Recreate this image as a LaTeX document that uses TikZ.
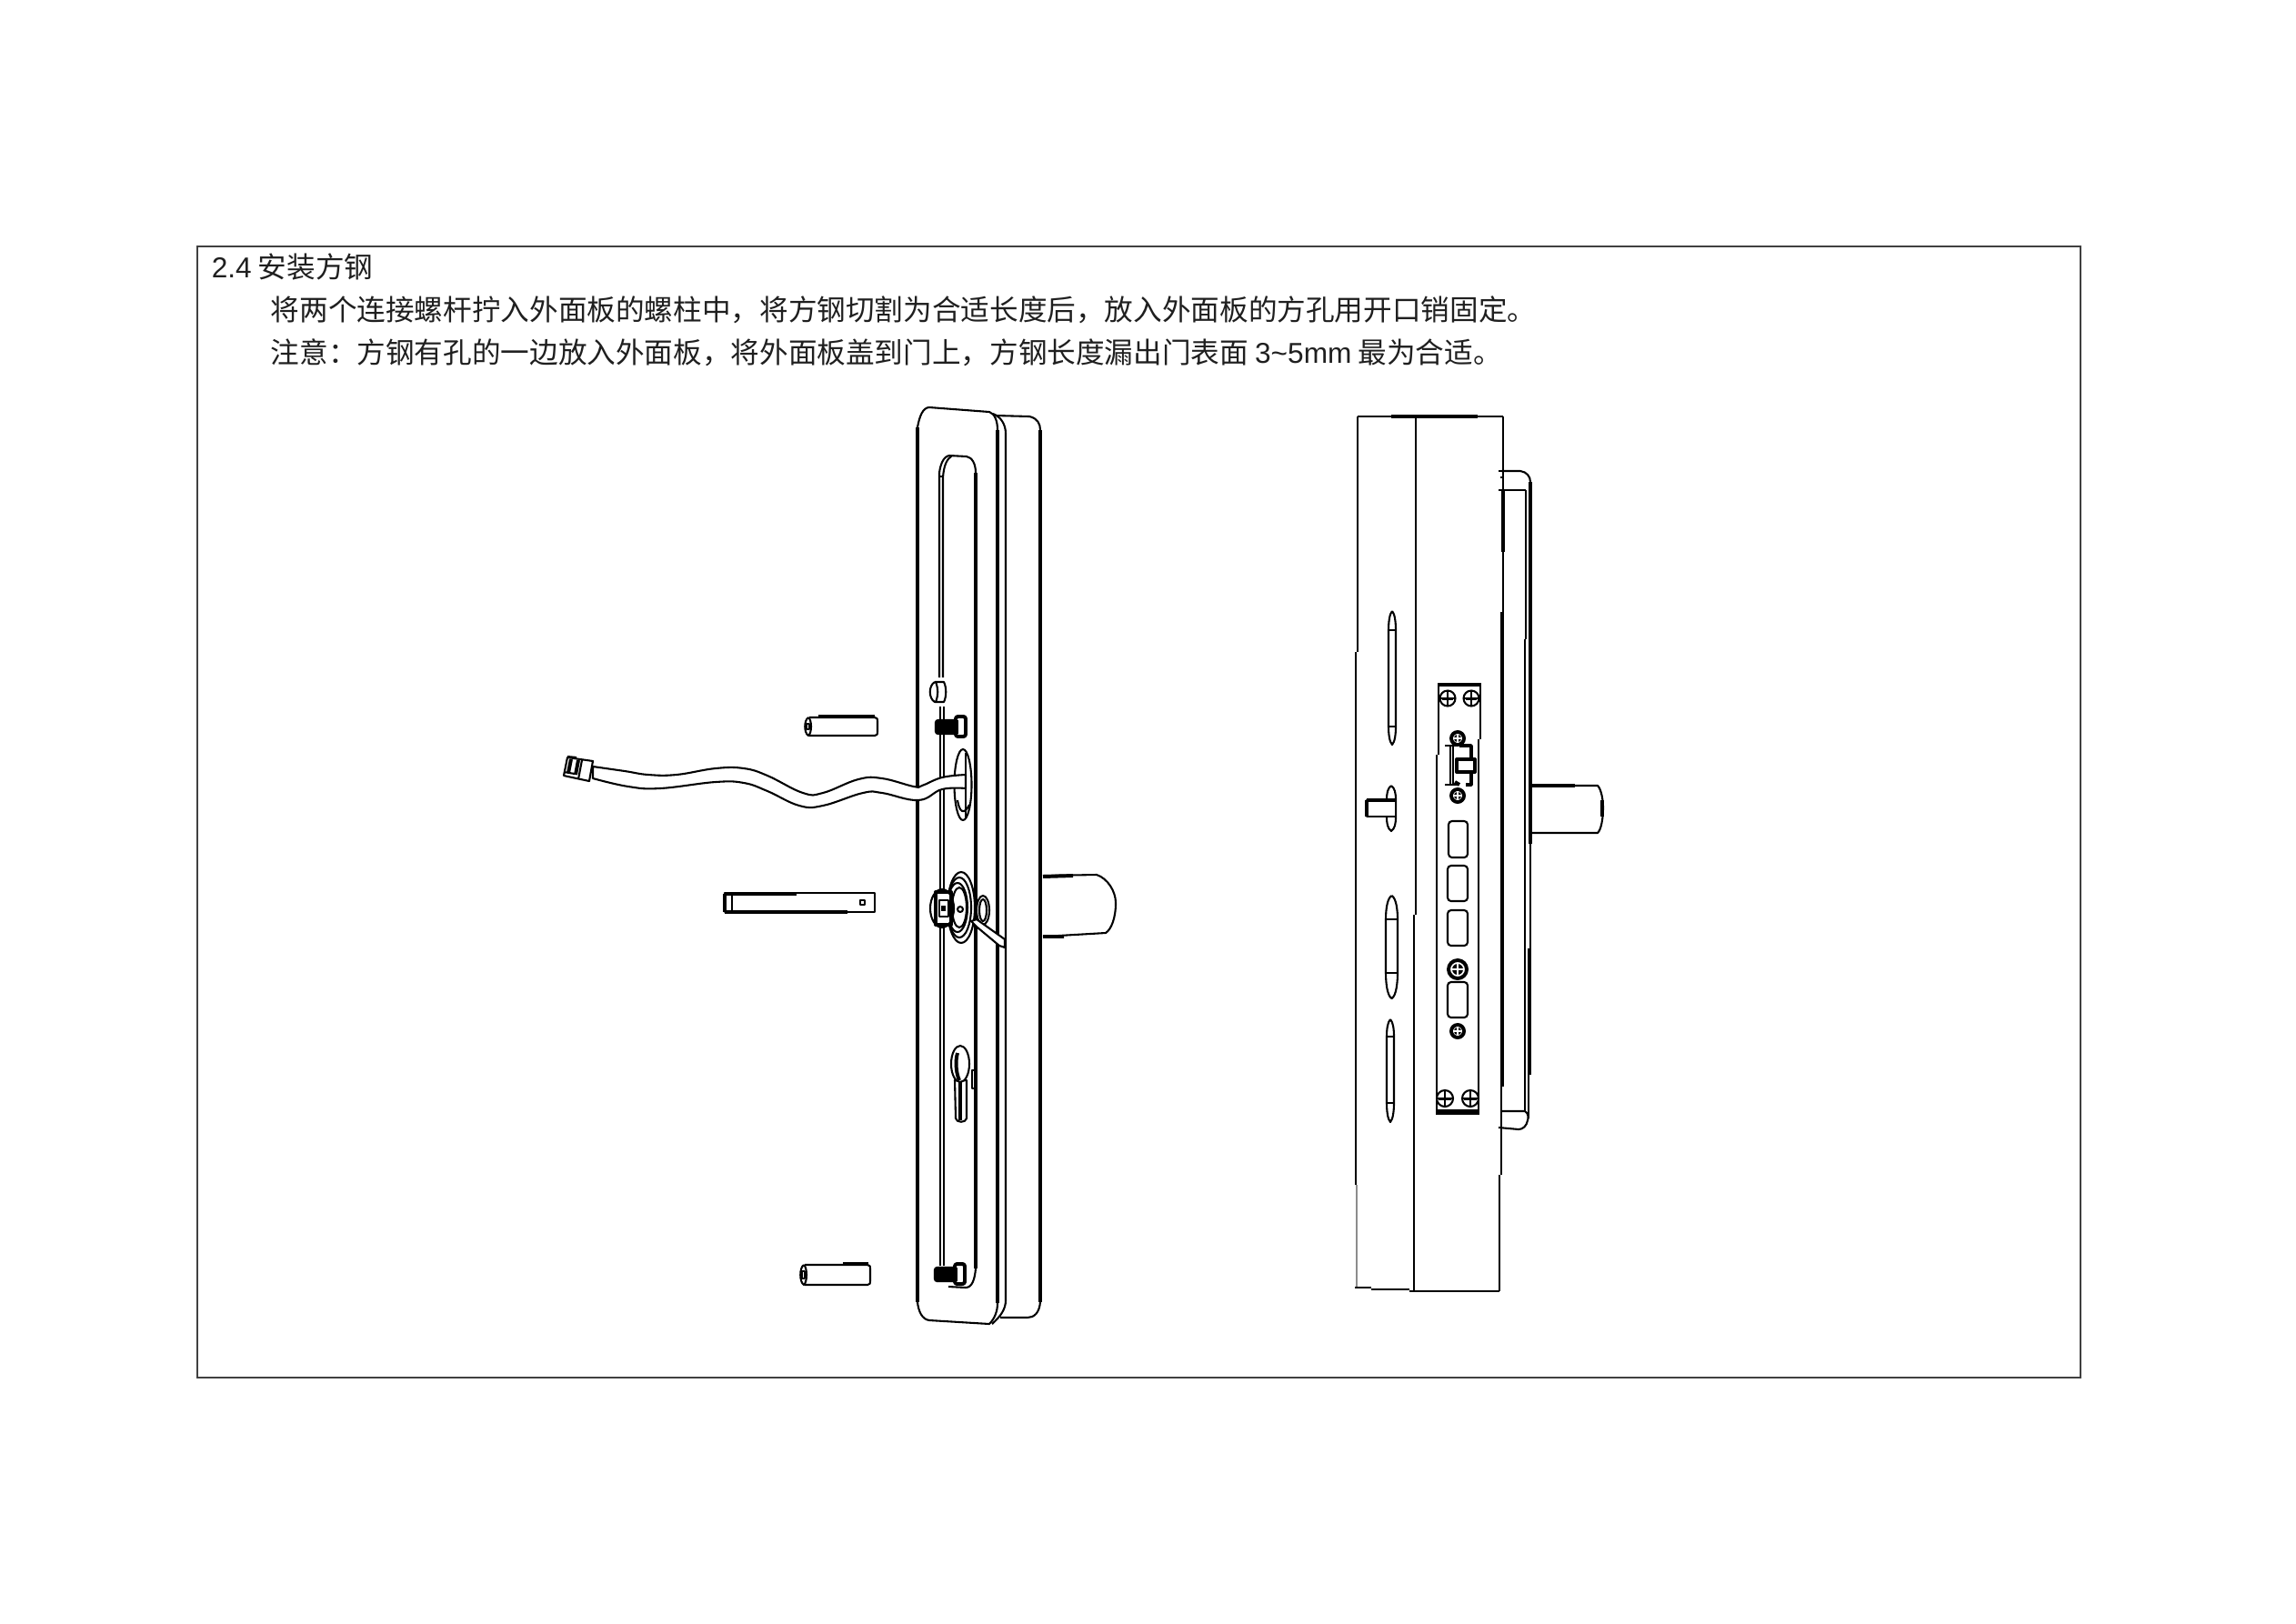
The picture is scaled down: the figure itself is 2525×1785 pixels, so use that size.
\documentclass[tikz,border=0pt]{standalone}
\usepackage{fontspec}
\setmainfont{Liberation Sans}
\newfontfamily\cjk{Noto Sans CJK SC}
\newcommand{\crossscrew}[3]{%
  \draw[ln] (#1,#2) circle (#3);
  \draw[ln] (#1-#3,#2) -- (#1+#3,#2) (#1,#2-#3) -- (#1,#2+#3);
  \draw[ln] (#1-#3*.75,#2+#3*.15) -- (#1+#3*.75,#2+#3*.15);
}
\newcommand{\denseScrew}[3]{%
  \draw[hv] (#1,#2) circle (#3);
  \fill (#1,#2) circle (#3*.6);
  \draw[white,line width=.3pt] (#1-#3*.7,#2) -- (#1+#3*.7,#2) (#1,#2-#3*.7) -- (#1,#2+#3*.7);
}
\newcommand{\slotshape}[6]{%
  \draw[ln,fill=white] ({(#1+#2)/2},#3) .. controls (#2-1,#3+3) and (#2,#5-8) .. (#2,#5)
    -- (#2,#6) .. controls (#2,#6+8) and (#2-1,#4-3) .. ({(#1+#2)/2},#4)
    .. controls (#1+1,#4-3) and (#1,#6+8) .. (#1,#6)
    -- (#1,#5) .. controls (#1,#5-8) and (#1+1,#3+3) .. ({(#1+#2)/2},#3);
  \draw[ln] (#1,#5) -- (#2,#5) (#1,#6) -- (#2,#6);
}
\newcommand{\rrect}[4]{%
  \draw[ln,rounded corners=.9pt] (#1,#3) rectangle (#2,#4);
}
\newcommand{\threadscrew}[2]{%
  \draw[ln,fill=white,rounded corners=.6pt] (#1,#2+4) rectangle (#1+24,#2+19);
  \draw[hv,fill=white,rounded corners=.6pt] (#1+22,#2) rectangle (#1+33,#2+22);
  \foreach \i in {3,7,...,23} {\draw[line width=.75pt] (#1+\i,#2+4) -- (#1+\i,#2+19);}
}
\newcommand{\cylpin}[4]{%
  \draw[ln] (#1+5,#3) -- (#2-3,#3) .. controls (#2,#3) and (#2,#3+2) .. (#2,#3+4)
    -- (#2,#4-4) .. controls (#2,#4-2) and (#2,#4) .. (#2-3,#4) -- (#1+5,#4);
  \draw[ln] (#1+4,#3) .. controls (#1-1,#3+3) and (#1-1,#4-3) .. (#1+4,#4)
    .. controls (#1+8,#4-3) and (#1+8,#3+3) .. (#1+4,#3);
  \draw[ln] (#1+2,#3+7) rectangle (#1+5,#4-7);
}
\tikzset{
  ln/.style={line width=.5pt,line join=round},
  hv/.style={line width=.95pt,line join=round},
  txt/.style={anchor=base west,inner sep=0pt,font=\fontsize{7.59pt}{9pt}\selectfont\cjk,text=black!88},
}
\begin{document}
\begin{tikzpicture}[x=.24pt,y=-.24pt]
\useasboundingbox (0,0) rectangle (2525,1785);
% frame
\draw[line width=.45pt,black!75] (217,271) rectangle (2288,1515);
% text
\node[txt] (t1) at (232,305) {{\rmfamily 2.4} 安装方钢};
\node[txt] (t2) at (297,352) {将两个连接螺杆拧入外面板的螺柱中，将方钢切割为合适长度后，放入外面板的方孔用开口销固定。};
\node[txt] (t3) at (297,399) {注意：方钢有孔的一边放入外面板，将外面板盖到门上，方钢长度漏出门表面 {\rmfamily 3\textasciitilde 5mm} 最为合适。};

%%% LEFT VIEW
% back plate
\draw[ln] (1095,457) -- (1132,458) .. controls (1141,460) and (1144,466) .. (1144,473);
\draw[hv] (1144,473) -- (1144,1432);
\draw[ln] (1144,1432) .. controls (1143,1444) and (1137,1449) .. (1130,1449) -- (1100,1449);
% front plate
\draw[hv] (1009,470) -- (1009,1432);
\draw[ln] (1009,470) .. controls (1011,458) and (1015,448) .. (1022,448) -- (1088,453) .. controls (1094,455) and (1097,463) .. (1097,473);
\draw[hv] (1097,473) -- (1097,1433);
\draw[ln] (1009,1432) .. controls (1010,1442) and (1014,1451) .. (1022,1452) -- (1088,1456) .. controls (1094,1450) and (1097,1442) .. (1097,1433);
\draw[ln] (1092,455) .. controls (1100,458) and (1106,466) .. (1106,477) -- (1106,1430)
  .. controls (1106,1440) and (1100,1448) .. (1091,1456);
% window
\draw[ln] (1033,745) -- (1033,520) .. controls (1034,512) and (1037,502) .. (1044,501) -- (1063,502) .. controls (1069,503) and (1073,510) .. (1073,520);
\draw[hv] (1073,520) -- (1073,1395);
\draw[ln] (1073,1395) .. controls (1072,1407) and (1069,1416) .. (1062,1416) -- (1043,1415);
\draw[ln] (1037,745) -- (1037,525) .. controls (1038,512) and (1041,505) .. (1047,501);
\draw[ln] (1033,524) -- (1037,524);
\draw[ln] (1034,777) -- (1034,1392) (1038,777) -- (1038,1392);
% tab
\draw[ln,fill=white] (1028,750) -- (1038,750) .. controls (1041,756) and (1041,766) .. (1038,772) -- (1028,772) .. controls (1021,768) and (1021,754) .. (1028,750);
\draw[ln] (1029,750) .. controls (1032,758) and (1032,764) .. (1029,772);
% screws
\threadscrew{1029}{788}
\threadscrew{1028}{1390}
% slot oval
\draw[ln,fill=white] (1059,863) ellipse (9.5 and 39);
\draw[ln] (1062,828) -- (1062,900);
\draw[ln] (1053,880) .. controls (1055,893) and (1060,897) .. (1066,885);
% wire
\draw[ln,fill=white] plot[smooth,tension=.7] coordinates {(652,843) (687,848) (713,852) (744,852) (787,845) (818,845) (844,853) (883,872) (905,872) (944,857) (970,856) (1005,865) (1014,864) (1036,855) (1062,852)}
  -- plot[smooth,tension=.7] coordinates {(1062,867) (1036,868) (1010,880) (970,872) (949,872) (905,886) (879,886) (844,870) (818,861) (787,860) (726,867) (691,865) (652,856)} -- cycle;
% plug
\draw[ln,fill=white] (652,837) -- (648,859) -- (620,853) -- (624,833) -- cycle;
\draw[hv] (628,835) -- (625,850) (636,836) -- (633,852);
\draw[ln] (624,832) -- (634,833) (620,849) -- (632,851) (640,836) -- (636,857);
% square steel
\draw[ln] (797,982) rectangle (962,1003);
\draw[hv] (797,983) -- (876,983) (797,1003) -- (932,1003) (797,983) -- (797,1003);
\draw[ln] (805,983) -- (805,1003);
\draw[ln] (946,990) rectangle (951,995);
% pins
\cylpin{885}{965}{789}{809}
\draw[hv] (900,788) -- (962,788);
\cylpin{880}{957}{1391}{1413}
\draw[hv] (927,1390) -- (955,1390);
% hub
\draw[ln,fill=white] (1057,998) ellipse (15 and 39);
\draw[ln] (1055,998) ellipse (13 and 33);
\draw[ln] (1053,998) ellipse (11 and 27);
\draw[ln] (1055,998) ellipse (8 and 22);
\draw[ln,fill=white] (1081,1001) ellipse (7 and 16);
\draw[ln] (1081,1001) ellipse (4 and 12);
\draw[ln,fill=white] (1036,999) ellipse (13 and 21);
\draw[hv] (1029,981) rectangle (1046,1017);
\draw[ln] (1033,990) rectangle (1043,1008);
\fill (1035,996) rectangle (1040,1002);
\draw[ln] (1056,1000) circle (3);
\draw[ln,fill=white] (1068,1013) -- (1074,1011) -- (1105,1033) -- (1105,1042) -- (1099,1040) -- (1075,1020) -- cycle;
% key-hole
\draw[ln,fill=white] (1050,1188) -- (1063,1188) -- (1063,1230) .. controls (1062,1235) and (1052,1235) .. (1051,1230) -- cycle;
\draw[hv] (1056,1188) -- (1056,1232);
\draw[ln,fill=white] (1056,1170) ellipse (10 and 20);
\draw[hv] (1053,1158) .. controls (1050,1168) and (1052,1182) .. (1055,1188);
\draw[ln] (1069,1177) rectangle (1073,1197);
% handle
\draw[ln] (1147,963) -- (1206,962) .. controls (1218,966) and (1227,980) .. (1227,993) .. controls (1227,1010) and (1222,1022) .. (1216,1026) -- (1147,1030);
\draw[hv] (1147,964) -- (1180,963) (1147,1030) -- (1170,1030);

%%% RIGHT VIEW
\draw[ln] (1493,458) -- (1653,458);
\draw[hv] (1530,458) -- (1625,458);
\draw[ln] (1493,458) -- (1493,717);
\draw[line width=.7pt] (1491,717) -- (1491,1303);
\draw[line width=.35pt,black!45] (1492,1303) -- (1492,1416);
\draw[ln] (1557,458) -- (1557,1006);
\draw[ln] (1555,1006) -- (1555,1419);
\draw[ln] (1490,1416) -- (1508,1416) (1508,1418) -- (1550,1418) (1550,1420) -- (1649,1420);
\draw[ln] (1653,458) -- (1653,673);
\draw[hv] (1653,538) -- (1653,607);
\draw[line width=.95pt] (1652,673) -- (1652,1195);
\draw[ln] (1651,1195) -- (1651,1292);
\draw[ln] (1649,1292) -- (1649,1420);
% handle bar
\draw[ln] (1651,518) -- (1672,518) .. controls (1679,519) and (1683,524) .. (1683,530);
\draw[ln] (1651,539) -- (1678,539);
\draw[line width=1.1pt] (1683,530) -- (1683,928);
\draw[ln] (1678,539) -- (1678,703) (1677,703) -- (1677,1222) (1683,928) -- (1683,1043);
\draw[line width=1.1pt] (1682,1043) -- (1682,1182);
\draw[ln] (1681,1182) -- (1681,1230);
\draw[ln] (1650,1222) -- (1677,1222) .. controls (1681,1224) and (1681,1230) .. (1680,1232) .. controls (1679,1238) and (1675,1242) .. (1670,1242) -- (1648,1240);
\draw[ln] (1648,518) -- (1651,518) (1650,525) -- (1653,525) (1648,539) -- (1653,539);
% stub
\draw[ln] (1685,864) -- (1757,864) .. controls (1761,868) and (1763,880) .. (1763,888) .. controls (1763,900) and (1761,912) .. (1757,916) -- (1685,916);
\draw[hv] (1685,864) -- (1732,864) (1762,880) -- (1762,898);
% lock plate
\draw[line width=1.1pt] (1581,753) -- (1629,753);
\draw[ln] (1582,753) -- (1582,830) (1580,830) -- (1580,1223);
\draw[ln] (1628,753) -- (1628,813) (1626,813) -- (1626,1223);
\draw[line width=1.3pt] (1579,1223) -- (1627,1223);
\crossscrew{1592}{768}{8.5}
\crossscrew{1618}{768}{8.5}
\crossscrew{1589}{1208}{9}
\crossscrew{1617}{1208}{9}
\denseScrew{1603}{812}{7}
\denseScrew{1603}{875}{7}
\denseScrew{1603}{1066}{10}
\denseScrew{1603}{1134}{7}
% latch
\draw[ln] (1589,820) -- (1603,820) (1589,863) -- (1603,863);
\draw[ln] (1595,820) -- (1595,863) (1598,820) -- (1598,863);
\draw[hv] (1605,820) -- (1618,820) -- (1618,863) -- (1612,863) (1605,863) -- (1600,860);
\draw[hv,fill=white] (1602,835) rectangle (1622,849);
% rounded rects
\rrect{1593}{1614}{903}{943}
\rrect{1592}{1614}{952}{991}
\rrect{1592}{1614}{1001}{1040}
\rrect{1592}{1614}{1080}{1119}
% side slots
\slotshape{1527}{1535}{672}{819}{693}{799}
\slotshape{1525}{1535}{864}{914}{880}{898}
\draw[ln,fill=white] (1503,880) rectangle (1535,898);
\draw[line width=1.1pt] (1503,880) -- (1503,898) (1503,880) -- (1535,880);
\slotshape{1524}{1537}{985}{1098}{1011}{1070}
\slotshape{1525}{1533}{1121}{1234}{1140}{1213}
\end{tikzpicture}
\end{document}
